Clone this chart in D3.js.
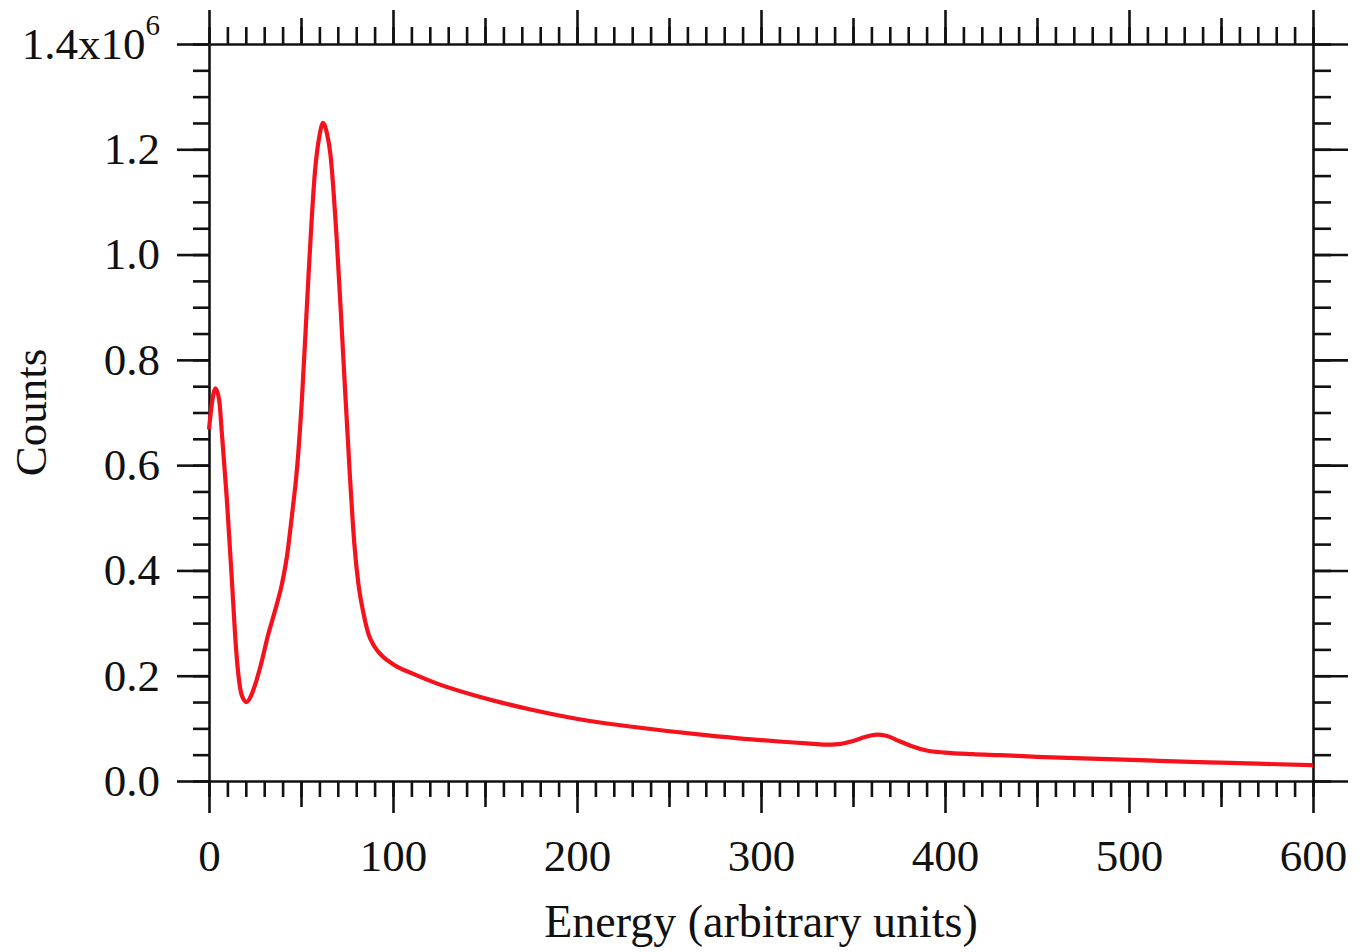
<!DOCTYPE html>
<html>
<head>
<meta charset="utf-8">
<script src="https://cdn.jsdelivr.net/npm/d3@7"></script>
<style>
  html, body { margin: 0; padding: 0; background: #fff; }
  svg { display: block; }
  text { font-family: "Liberation Serif", "Times New Roman", serif; fill: #111; }
</style>
</head>
<body>
<svg id="chart" width="1366" height="952"></svg>
<script>
// ---- data ----
const energy = [0, 1.5, 3.5, 5.5, 7, 9.6, 12.3, 15, 17.8, 20.5, 23, 25, 28.5, 32, 36, 39.5, 42.5, 45, 48, 50.5, 54, 57.6, 60, 62, 64, 66, 69.4, 73, 76.6, 79, 81.2, 84, 86.6, 90, 94, 100, 112, 124, 145, 160, 176, 207, 230, 249, 270, 291, 310, 325, 335, 342, 350, 357, 363, 368, 375, 382, 390, 400, 415, 430, 450, 484, 510, 538, 570, 600];
const counts = [668000, 715000, 746000, 725000, 660000, 540000, 389000, 238000, 163000, 150000, 163000, 182000, 225000, 276000, 325000, 372000, 430000, 502000, 600000, 725000, 955000, 1158000, 1225000, 1250000, 1232000, 1190000, 1030000, 804000, 578000, 450000, 374000, 318000, 280000, 255000, 238000, 222000, 202000, 185000, 162000, 148000, 135000, 114000, 103000, 95000, 87000, 80000, 75000, 71500, 69000, 70000, 76000, 84000, 88000, 86000, 76000, 66000, 58000, 54000, 51000, 49000, 46000, 42000, 39000, 36000, 33000, 30000];
const xMajorTicks = [0, 100, 200, 300, 400, 500, 600];
const xMidTicks = [50, 150, 250, 350, 450, 550];
const xMinorTicks = d3.range(0, 601, 10);
const yMajorTicks = [0, 200000, 400000, 600000, 800000, 1000000, 1200000, 1400000];
const yMinorTicks = d3.range(0, 1400001, 50000);
const xTitle = "Energy (arbitrary units)";
const yTitle = "Counts";

// ---- layout ----
const svg = d3.select("#chart");
const L = 209, R = 1313, T = 44, B = 781;
const x = d3.scaleLinear().domain([0, 600]).range([L, R]);
const y = d3.scaleLinear().domain([0, 1400000]).range([B, T]);

const AX = { stroke: "#111", sw: 2.6 };
const FS = "45px";

function styleAxis(g, keepDomain) {
  g.selectAll("line").attr("stroke", AX.stroke).attr("stroke-width", AX.sw);
  g.selectAll("path.domain").attr("stroke", keepDomain ? AX.stroke : "none").attr("stroke-width", AX.sw);
  g.selectAll("text").style("font-family", '"Liberation Serif", "Times New Roman", serif')
    .style("font-size", FS).attr("fill", "#111");
}

// bottom axis
const gb = svg.append("g").attr("transform", `translate(0,${B})`);
gb.append("g").call(d3.axisBottom(x).tickValues(xMinorTicks).tickSize(16).tickFormat("").tickSizeOuter(0)).call(g => styleAxis(g, false));
gb.append("g").call(d3.axisBottom(x).tickValues(xMidTicks).tickSize(26).tickFormat("").tickSizeOuter(0)).call(g => styleAxis(g, false));
gb.append("g").call(d3.axisBottom(x).tickValues(xMajorTicks).tickSize(32).tickPadding(26).tickFormat(d3.format("d")).tickSizeOuter(0)).call(g => styleAxis(g, true));

// top axis
const gt = svg.append("g").attr("transform", `translate(0,${T})`);
gt.append("g").call(d3.axisTop(x).tickValues(xMinorTicks).tickSize(17).tickFormat("").tickSizeOuter(0)).call(g => styleAxis(g, false));
gt.append("g").call(d3.axisTop(x).tickValues(xMidTicks).tickSize(26).tickFormat("").tickSizeOuter(0)).call(g => styleAxis(g, false));
gt.append("g").call(d3.axisTop(x).tickValues(xMajorTicks).tickSize(34).tickFormat("").tickSizeOuter(0)).call(g => styleAxis(g, true));

// left axis
const gl = svg.append("g").attr("transform", `translate(${L},0)`);
gl.append("g").call(d3.axisLeft(y).tickValues(yMinorTicks).tickSize(16).tickFormat(null).tickFormat(() => null).tickSizeOuter(0)).call(g => styleAxis(g, false));
gl.selectAll("g .tick text").remove();
const glMajor = gl.append("g").call(d3.axisLeft(y).tickValues(yMajorTicks).tickSize(32).tickPadding(17)
  .tickFormat(d => (d / 1e6).toFixed(1)).tickSizeOuter(0)).call(g => styleAxis(g, true));
// top label with exponent
glMajor.selectAll(".tick text").filter(d => d === 1400000).each(function () {
  const t = d3.select(this);
  t.text("1.4x10");
  t.append("tspan").attr("dy", "-24").style("font-size", "29px").text("6");
});

// right axis
const gr = svg.append("g").attr("transform", `translate(${R},0)`);
gr.append("g").call(d3.axisRight(y).tickValues(yMinorTicks).tickSize(18).tickFormat("").tickSizeOuter(0)).call(g => styleAxis(g, false));
gr.append("g").call(d3.axisRight(y).tickValues(yMajorTicks).tickSize(35).tickFormat("").tickSizeOuter(0)).call(g => styleAxis(g, true));

// data line
const data = energy.map((e, i) => [e, counts[i]]);
svg.append("path")
  .datum(data)
  .attr("fill", "none")
  .attr("stroke", "#f5121c")
  .attr("stroke-width", 4.2)
  .attr("stroke-linejoin", "round")
  .attr("d", d3.line().x(d => x(d[0])).y(d => y(d[1])).curve(d3.curveMonotoneX));

// titles
svg.append("text")
  .attr("x", (L + R) / 2).attr("y", 937)
  .attr("text-anchor", "middle")
  .style("font-size", "46px")
  .text(xTitle);
svg.append("text")
  .attr("transform", `translate(46,${(T + B) / 2}) rotate(-90)`)
  .attr("text-anchor", "middle")
  .style("font-size", "45px")
  .text(yTitle);
</script>
</body>
</html>
